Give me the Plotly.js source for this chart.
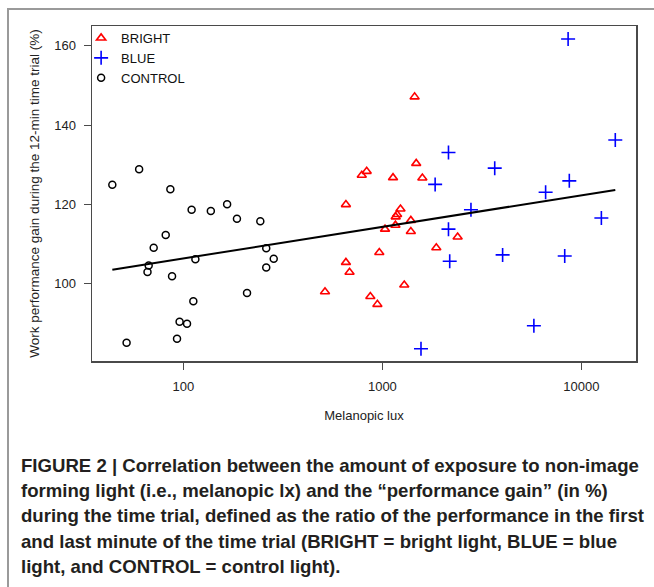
<!DOCTYPE html>
<html>
<head>
<meta charset="utf-8">
<script src="https://cdn.plot.ly/plotly-3.0.1.min.js"></script>
<style>
  html, body { margin: 0; padding: 0; background: #fff; width: 654px; height: 587px; overflow: hidden; }
  #frame { position: absolute; left: 7px; top: 8px; width: 800px; height: 800px;
           border-left: 2px solid #9a9a9a; border-top: 2px solid #9a9a9a; pointer-events: none; z-index: 5; }
  #chart { position: absolute; left: 0; top: 0; width: 654px; height: 440px; }
  #caption { position: absolute; left: 21px; top: 453px; font-family: "Liberation Sans", Arial, sans-serif;
             font-weight: bold; font-size: 18.6px; line-height: 25.2px; color: #231f20; white-space: nowrap; }
</style>
</head>
<body>
<div id="chart"></div>
<div id="frame"></div>
<div id="caption">FIGURE 2 | Correlation between the amount of exposure to non-image<br>forming light (i.e., melanopic lx) and the “performance gain” (in %)<br>during the time trial, defined as the ratio of the performance in the first<br>and last minute of the time trial (BRIGHT = bright light, BLUE = blue<br>light, and CONTROL = control light).</div>
<script>
// ---- data ----
var brightX = [1452, 1479, 788, 834, 1131, 1588, 656, 1233, 1186, 1167, 1390, 1163, 1031, 1390, 2388, 1866, 965, 656, 684, 1288, 515, 870, 944];
var brightY = [147.1, 130.3, 127.3, 128.3, 126.7, 126.6, 119.9, 118.8, 117.4, 116.8, 115.9, 114.7, 113.7, 113.1, 111.7, 109.0, 107.8, 105.3, 102.8, 99.6, 97.9, 96.7, 94.7];

var blueX = [8570, 14790, 2148, 3667, 1841, 8690, 6607, 2786, 12590, 2148, 2179, 4018, 8240, 5768, 1563];
var blueY = [161.7, 136.2, 133.05, 129.1, 125.0, 125.9, 123.0, 118.6, 116.5, 113.7, 105.6, 107.2, 106.9, 89.3, 83.5];

var controlX = [44.0, 60.0, 51.9, 86.1, 81.6, 71.0, 67.0, 66.1, 87.8, 110.1, 137.5, 166, 186, 243.7, 115, 261, 284.6, 261, 209, 112.3, 95.8, 104.4, 93.0];
var controlY = [124.9, 128.8, 85.0, 123.8, 112.2, 109.0, 104.5, 102.9, 101.8, 118.6, 118.3, 120.0, 116.3, 115.7, 106.1, 108.9, 106.2, 104.0, 97.6, 95.5, 90.3, 89.8, 86.0];

var fitX = [44, 14790];
var fitY = [103.46, 123.6];

var xTickVals = [100, 1000, 10000];
var xTickText = ["100", "1000", "10000"];
var yTickVals = [100, 120, 140, 160];
var yTickText = ["100", "120", "140", "160"];

var groupNames = ["BRIGHT", "BLUE", "CONTROL"];

// ---- chart ----
var fontFam = "Liberation Sans, Arial, sans-serif";
var traces = [
  { x: brightX, y: brightY, type: "scatter", mode: "markers", name: groupNames[0],
    marker: { symbol: "triangle-up-open", size: 8, color: "#ff0000", line: { width: 1.6, color: "#ff0000" } } },
  { x: blueX, y: blueY, type: "scatter", mode: "markers", name: groupNames[1],
    marker: { symbol: "cross-thin-open", size: 10, color: "#0000ff", line: { width: 1.6, color: "#0000ff" } } },
  { x: controlX, y: controlY, type: "scatter", mode: "markers", name: groupNames[2],
    marker: { symbol: "circle-open", size: 7, color: "#000000", line: { width: 1.5, color: "#000000" } } },
  { x: fitX, y: fitY, type: "scatter", mode: "lines", showlegend: false,
    line: { color: "#000000", width: 2 } }
];

var axisCommon = {
  showgrid: false, zeroline: false, showline: true, mirror: true,
  linecolor: "#4a4a4a", linewidth: 1.5,
  ticks: "outside", ticklen: 7, tickwidth: 1, tickcolor: "#4a4a4a",
  tickfont: { family: fontFam, size: 13, color: "#222" }
};

var layout = {
  width: 654, height: 440,
  margin: { l: 92, r: 18, t: 26, b: 79 },
  paper_bgcolor: "rgba(0,0,0,0)", plot_bgcolor: "#fff",
  showlegend: true,
  legend: { x: -0.02, y: 1.009, xanchor: "left", yanchor: "top", bgcolor: "rgba(0,0,0,0)",
            font: { family: fontFam, size: 13, color: "#111" }, tracegroupgap: 0 },
  xaxis: Object.assign({}, axisCommon, {
    type: "log", range: [1.5414, 4.274], tickmode: "array", tickvals: xTickVals, ticktext: xTickText,
    ticklabelstandoff: 6,
    title: { text: "Melanopic lux", font: { family: fontFam, size: 13, color: "#222" }, standoff: 18 }
  }),
  yaxis: Object.assign({}, axisCommon, {
    range: [80.4, 165.0], tickmode: "array", tickvals: yTickVals, ticktext: yTickText,
    ticklabelstandoff: 5,
    title: { text: "Work performance gain during the 12-min time trial (%)", font: { family: fontFam, size: 13.5, color: "#222" }, standoff: 11 }
  })
};

Plotly.newPlot("chart", traces, layout, { displayModeBar: false, staticPlot: true });
</script>
</body>
</html>
